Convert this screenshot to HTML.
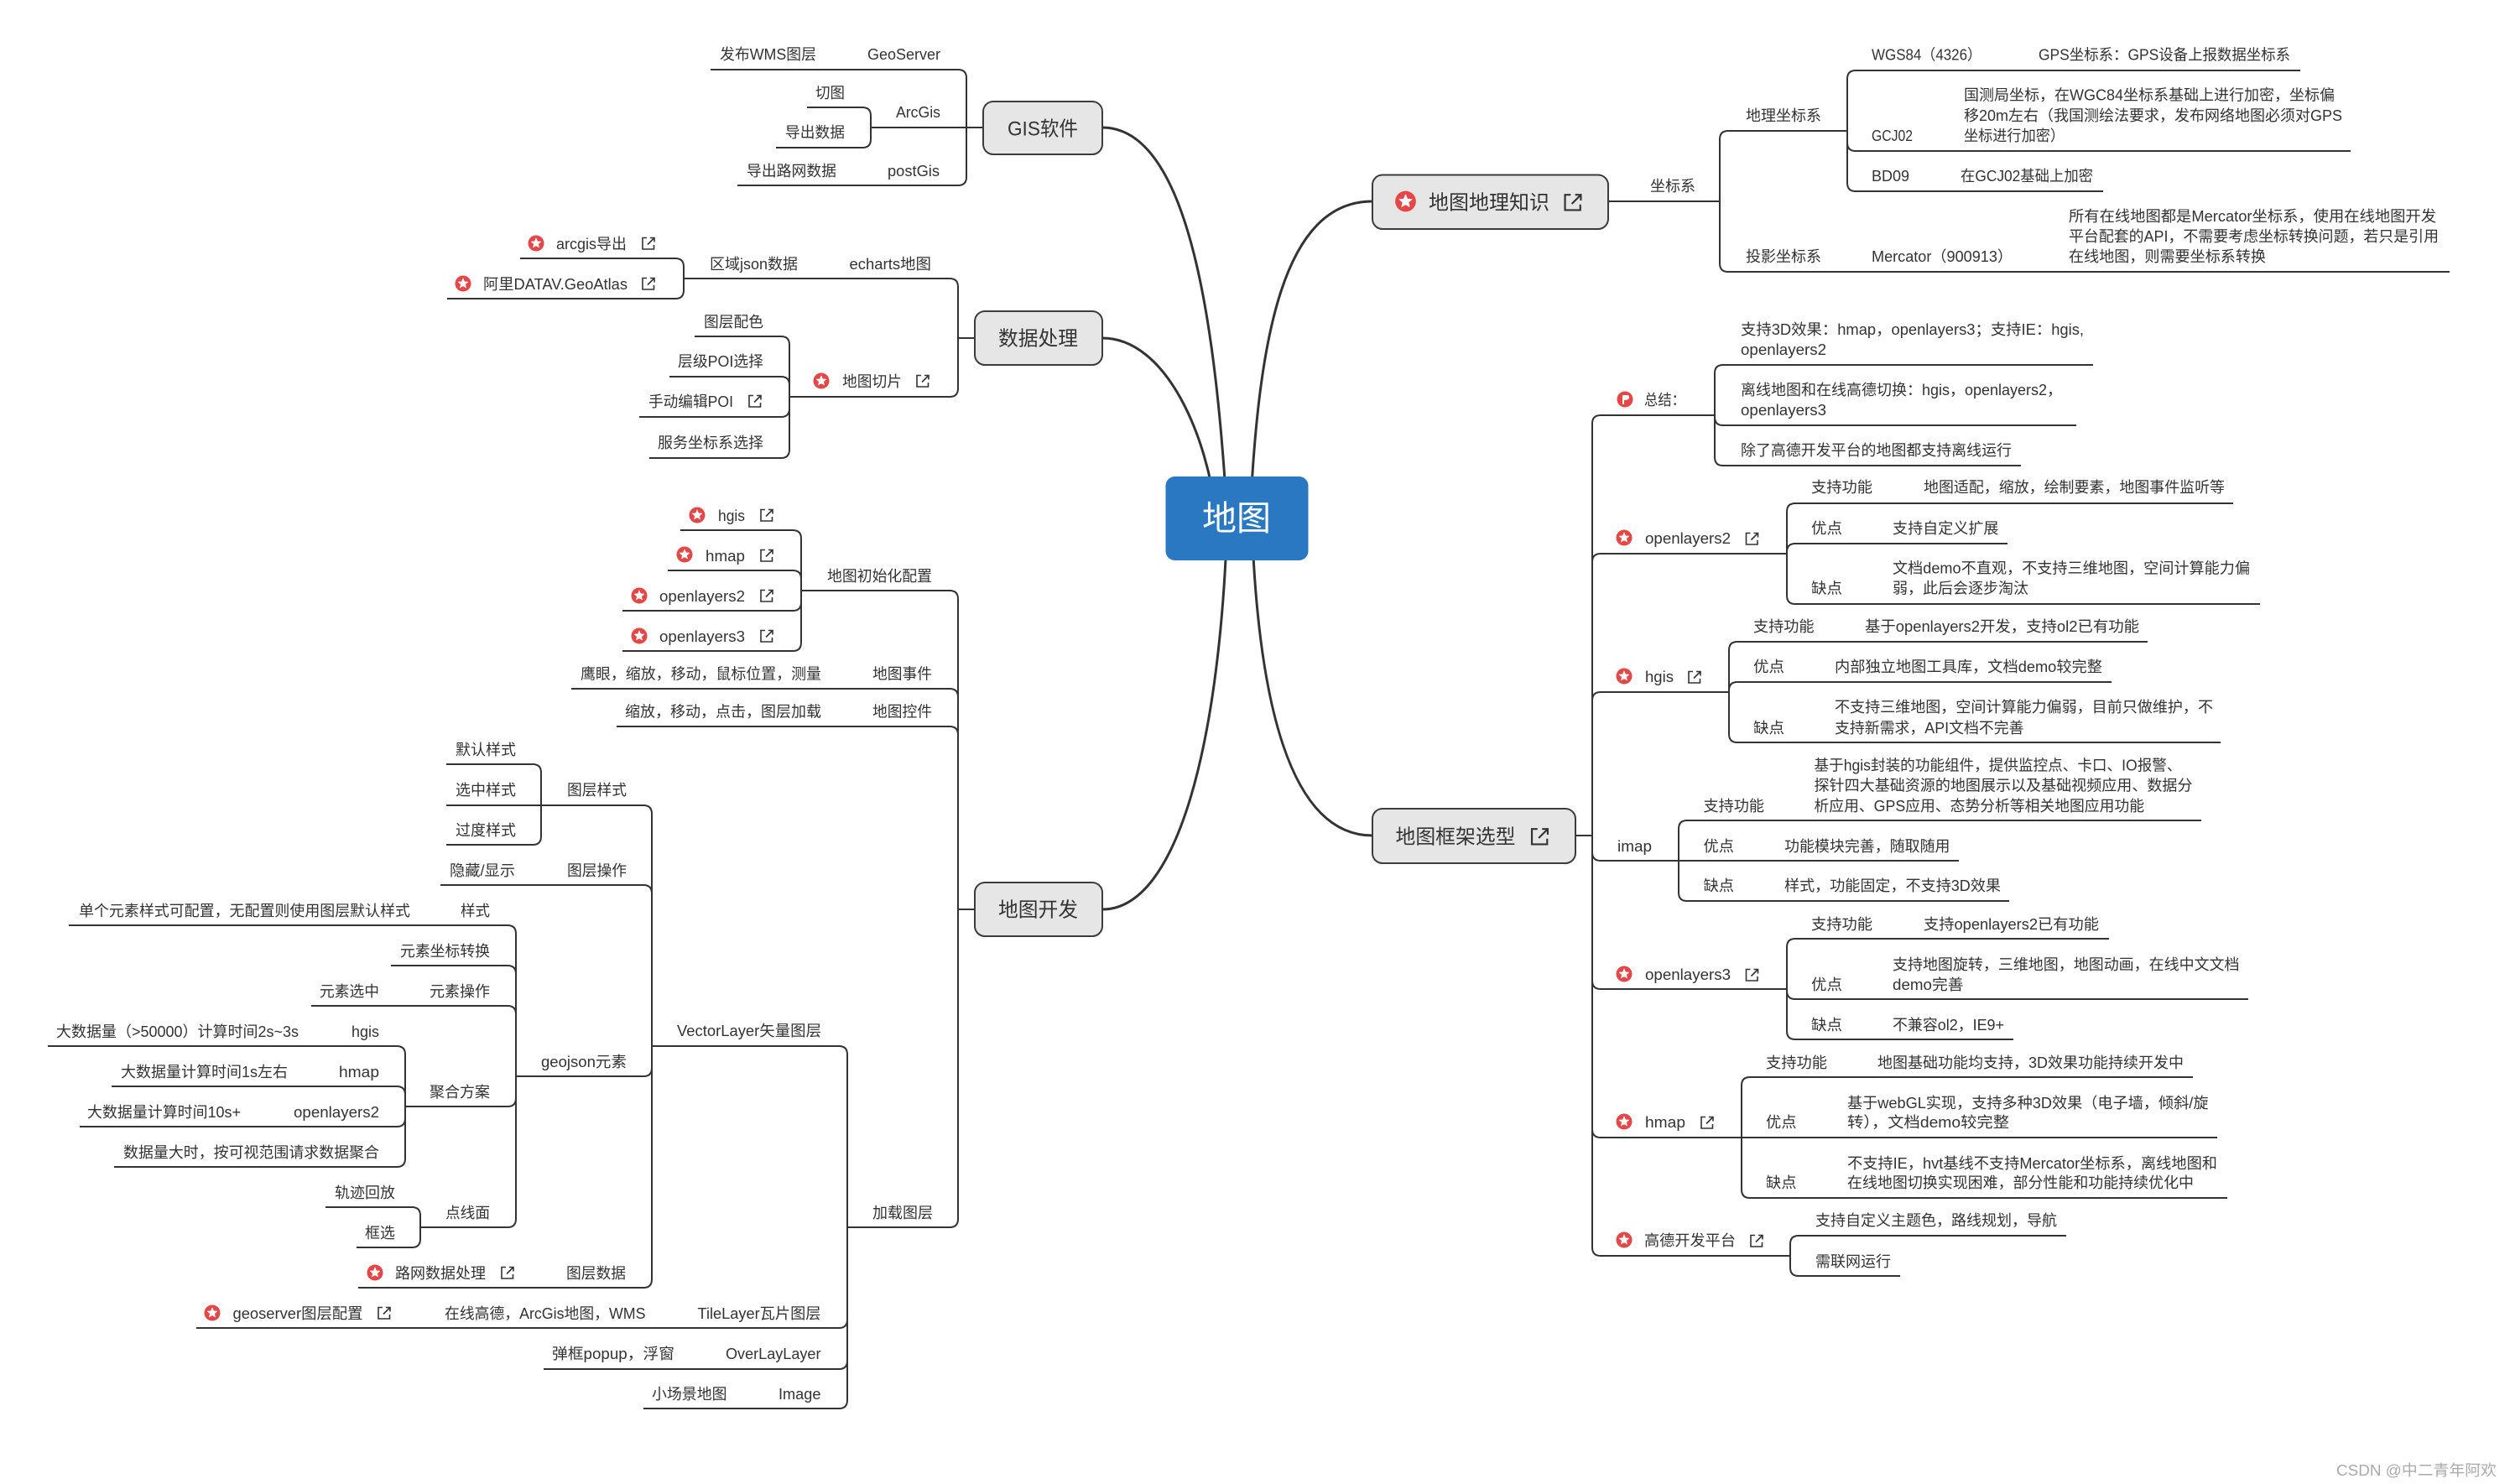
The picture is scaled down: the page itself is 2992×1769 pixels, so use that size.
<!DOCTYPE html>
<html lang="zh"><head><meta charset="utf-8"><title>地图</title>
<style>
html,body{margin:0;padding:0;background:#fff}
svg{display:block}
text{font-family:"Liberation Sans","Noto Sans CJK SC",sans-serif;font-size:18px;fill:#333;dominant-baseline:central;transform:translateY(1px)}
.l{fill:none;stroke:#333;stroke-width:2}
.c{fill:none;stroke:#333;stroke-width:3}
.n{fill:#e6e6e6;stroke:#3c3c3c;stroke-width:2}
.b text,text.b{font-size:24px}
.u{fill:none;stroke:#333;stroke-width:1.6}
</style></head><body>
<svg xmlns="http://www.w3.org/2000/svg" width="2992" height="1769" viewBox="0 0 2992 1769">
<defs>
<g id="s"><circle r="9.5" fill="#e54646"/><polygon fill="#fff" stroke="#fff" stroke-width=".8" stroke-linejoin="round" points="0,-6 1.53,-2.1 5.7,-1.85 2.47,.8 3.5,4.85 0,2.6 -3.5,4.85 -2.47,.8 -5.7,-1.85 -1.53,-2.1"/></g>
<g id="f"><circle r="9.5" fill="#e54646"/><path fill="#fff" d="M-3 6V-5H2.500Q5.500-5 5-2Q4.500 1-1 1V6Z"/></g>
<path id="k" class="u" d="M-2-6.500H-7V7H6.500V2M-1 1.500L7-6.500M2-6.500H7V-1.500"/>
</defs>
<rect width="2992" height="1769" fill="#fff"/>

<!-- main curves -->
<path class="c" d="M1463 618C1450 400 1420 152 1314 152"/>
<path class="c" d="M1450 618C1440 520 1390 403 1314 403"/>
<path class="c" d="M1463 618C1455 880 1405 1084 1314 1084"/>
<path class="c" d="M1490 618C1500 400 1530 240 1636 240"/>
<path class="c" d="M1492 618C1500 860 1545 996 1636 996"/>

<!-- connectors -->
<path class="l" d="M847 83H1142Q1152 83 1152 93V152M879 221H1142Q1152 221 1152 211V152M962 128H1028Q1038 128 1038 138V152M925 176H1028Q1038 176 1038 166V152M1038 152H1172"/>
<path class="l" d="M815 332H1132Q1142 332 1142 342V403M941 473H1132Q1142 473 1142 463V403M1142 403H1162M620 308H805Q815 308 815 318V332M533 356H805Q815 356 815 346V332M828 401H931Q941 401 941 411V473M798 449H931Q941 449 941 459V473M762 497H931Q941 497 941 487V473M774 546H931Q941 546 941 536V473"/>
<path class="l" d="M955 704H1132Q1142 704 1142 714V1084M681 821H1132Q1142 821 1142 831V1084M735 866H1132Q1142 866 1142 876V1084M1010 1463H1132Q1142 1463 1142 1453V1084M1142 1084H1162"/>
<path class="l" d="M811 632H945Q955 632 955 642V704M796 680H945Q955 680 955 690V704M742 728H945Q955 728 955 718V704M742 776H945Q955 776 955 766V704"/>
<path class="l" d="M777 1247H1000Q1010 1247 1010 1257V1463M234 1583H1000Q1010 1583 1010 1573V1463M648 1632H1000Q1010 1632 1010 1622V1463M767 1679H1000Q1010 1679 1010 1669V1463"/>
<path class="l" d="M532 960H767Q777 960 777 970V1247M525 1055H767Q777 1055 777 1065V1247M615 1283H767Q777 1283 777 1273V1247M427 1535H767Q777 1535 777 1525V1247"/>
<path class="l" d="M532 911H635Q645 911 645 921V960M532 1007H635Q645 1007 645 997V960"/>
<path class="l" d="M82 1103H605Q615 1103 615 1113V1283M466 1151H605Q615 1151 615 1161V1283M371 1199H605Q615 1199 615 1209V1283M483 1319H605Q615 1319 615 1309V1283M501 1463H605Q615 1463 615 1453V1283"/>
<path class="l" d="M57 1247H473Q483 1247 483 1257V1319M133 1295H473Q483 1295 483 1305V1319M95 1343H473Q483 1343 483 1333V1319M136 1391H473Q483 1391 483 1381V1319"/>
<path class="l" d="M388 1439H491Q501 1439 501 1449V1463M425 1487H491Q501 1487 501 1477V1463"/>

<path class="l" d="M1917 240H2050M2050 240V166Q2050 156 2060 156H2202M2050 240V314Q2050 324 2060 324H2920M2202 156V94Q2202 84 2212 84H2742M2202 156V170Q2202 180 2212 180H2802M2202 156V218Q2202 228 2212 228H2507"/>
<path class="l" d="M1878 996H1898M1898 996V505Q1898 495 1908 495H2044M1898 996V670Q1898 660 1908 660H2130M1898 996V835Q1898 825 1908 825H2061M1898 996V1016Q1898 1026 1908 1026H2335M1898 996V1169Q1898 1179 1908 1179H2130M1898 996V1346Q1898 1356 1908 1356H2643M1898 996V1487Q1898 1497 1908 1497H2134"/>
<path class="l" d="M2044 495V445Q2044 435 2054 435H2495M2044 495V497Q2044 507 2054 507H2475M2044 495V545Q2044 555 2054 555H2409"/>
<path class="l" d="M2130 660V610Q2130 600 2140 600H2662M2130 660V658Q2130 648 2140 648H2393M2130 660V710Q2130 720 2140 720H2694"/>
<path class="l" d="M2061 825V775Q2061 765 2071 765H2560M2061 825V823Q2061 813 2071 813H2517M2061 825V875Q2061 885 2071 885H2647"/>
<path class="l" d="M2001 1026V988Q2001 978 2011 978H2624M2001 1026V1064Q2001 1074 2011 1074H2395"/>
<path class="l" d="M2130 1179V1129Q2130 1119 2140 1119H2514M2130 1179V1181Q2130 1191 2140 1191H2680M2130 1179V1229Q2130 1239 2140 1239H2400"/>
<path class="l" d="M2076 1356V1294Q2076 1284 2086 1284H2614M2076 1356V1418Q2076 1428 2086 1428H2655"/>
<path class="l" d="M2134 1497V1483Q2134 1473 2144 1473H2463M2134 1497V1511Q2134 1521 2144 1521H2265"/>

<!-- nodes -->
<rect x="1389.500" y="568" width="170" height="100" rx="11" fill="#2b78c2"/>
<text x="1433" y="617" textLength="82" lengthAdjust="spacingAndGlyphs" style="font-size:41px;fill:#fff">地图</text>
<rect class="n" x="1172" y="121" width="142" height="63" rx="12"/>
<text class="b" x="1201" y="153" textLength="84" lengthAdjust="spacingAndGlyphs">GIS软件</text>
<rect class="n" x="1162" y="371" width="152" height="64" rx="12"/>
<text class="b" x="1190" y="403" textLength="95" lengthAdjust="spacingAndGlyphs">数据处理</text>
<rect class="n" x="1162" y="1052" width="152" height="64" rx="12"/>
<text class="b" x="1190" y="1084" textLength="95" lengthAdjust="spacingAndGlyphs">地图开发</text>
<rect class="n" x="1636" y="208.500" width="281" height="64.500" rx="12"/>
<use href="#s" transform="translate(1675.500 240) scale(1.3)"/>
<text class="b" x="1703" y="241" textLength="144" lengthAdjust="spacingAndGlyphs">地图地理知识</text>
<use href="#k" transform="translate(1875 241) scale(1.35)"/>
<rect class="n" x="1636" y="964" width="242" height="65" rx="12"/>
<text class="b" x="1663.500" y="997" textLength="143" lengthAdjust="spacingAndGlyphs">地图框架选型</text>
<use href="#k" transform="translate(1835.500 997) scale(1.35)"/>

<!-- GIS -->
<text x="858" y="64" textLength="115" lengthAdjust="spacingAndGlyphs">发布WMS图层</text>
<text x="1034" y="64" textLength="87" lengthAdjust="spacingAndGlyphs">GeoServer</text>
<text x="972" y="110" textLength="35" lengthAdjust="spacingAndGlyphs">切图</text>
<text x="1068" y="133" textLength="53" lengthAdjust="spacingAndGlyphs">ArcGis</text>
<text x="936" y="157" textLength="71" lengthAdjust="spacingAndGlyphs">导出数据</text>
<text x="890" y="203" textLength="107" lengthAdjust="spacingAndGlyphs">导出路网数据</text>
<text x="1058" y="203" textLength="62" lengthAdjust="spacingAndGlyphs">postGis</text>

<!-- data -->
<use href="#s" x="639" y="290"/><text x="663" y="290" textLength="84" lengthAdjust="spacingAndGlyphs">arcgis导出</text><use href="#k" x="773" y="290"/>
<use href="#s" x="552" y="338"/><text x="576" y="338" textLength="172" lengthAdjust="spacingAndGlyphs">阿里DATAV.GeoAtlas</text><use href="#k" x="773" y="338"/>
<text x="846" y="314" textLength="105" lengthAdjust="spacingAndGlyphs">区域json数据</text>
<text x="1012.500" y="314" textLength="97.500" lengthAdjust="spacingAndGlyphs">echarts地图</text>
<use href="#s" x="979" y="454"/><text x="1004" y="454" textLength="71" lengthAdjust="spacingAndGlyphs">地图切片</text><use href="#k" x="1100" y="454"/>
<text x="839" y="383" textLength="71" lengthAdjust="spacingAndGlyphs">图层配色</text>
<text x="808" y="430" textLength="102" lengthAdjust="spacingAndGlyphs">层级POI选择</text>
<text x="773" y="478" textLength="101" lengthAdjust="spacingAndGlyphs">手动编辑POI</text><use href="#k" x="900" y="478"/>
<text x="784" y="527" textLength="126" lengthAdjust="spacingAndGlyphs">服务坐标系选择</text>

<!-- dev top -->
<use href="#s" x="831" y="614"/><text x="856" y="614" textLength="32" lengthAdjust="spacingAndGlyphs">hgis</text><use href="#k" x="914" y="614"/>
<use href="#s" x="816" y="661"/><text x="841" y="662" textLength="47" lengthAdjust="spacingAndGlyphs">hmap</text><use href="#k" x="914" y="662"/>
<use href="#s" x="762" y="710"/><text x="786" y="710" textLength="102" lengthAdjust="spacingAndGlyphs">openlayers2</text><use href="#k" x="914" y="710"/>
<use href="#s" x="762" y="758"/><text x="786" y="758" textLength="102" lengthAdjust="spacingAndGlyphs">openlayers3</text><use href="#k" x="914" y="758"/>
<text x="986" y="686" textLength="125" lengthAdjust="spacingAndGlyphs">地图初始化配置</text>
<text x="692" y="802.500" textLength="287" lengthAdjust="spacingAndGlyphs">鹰眼，缩放，移动，鼠标位置，测量</text>
<text x="1040" y="802.500" textLength="71" lengthAdjust="spacingAndGlyphs">地图事件</text>
<text x="745" y="847.500" textLength="234" lengthAdjust="spacingAndGlyphs">缩放，移动，点击，图层加载</text>
<text x="1040" y="847.500" textLength="71" lengthAdjust="spacingAndGlyphs">地图控件</text>

<!-- layers -->
<text x="543" y="893" textLength="72" lengthAdjust="spacingAndGlyphs">默认样式</text>
<text x="543" y="941" textLength="72" lengthAdjust="spacingAndGlyphs">选中样式</text>
<text x="676" y="941" textLength="71" lengthAdjust="spacingAndGlyphs">图层样式</text>
<text x="543" y="989" textLength="72" lengthAdjust="spacingAndGlyphs">过度样式</text>
<text x="536" y="1037" textLength="78" lengthAdjust="spacingAndGlyphs">隐藏/显示</text>
<text x="676" y="1037" textLength="71" lengthAdjust="spacingAndGlyphs">图层操作</text>
<text x="94" y="1085" textLength="395" lengthAdjust="spacingAndGlyphs">单个元素样式可配置，无配置则使用图层默认样式</text>
<text x="549" y="1085" textLength="35" lengthAdjust="spacingAndGlyphs">样式</text>
<text x="477" y="1133" textLength="107" lengthAdjust="spacingAndGlyphs">元素坐标转换</text>
<text x="381" y="1181" textLength="71" lengthAdjust="spacingAndGlyphs">元素选中</text>
<text x="512" y="1181" textLength="72" lengthAdjust="spacingAndGlyphs">元素操作</text>
<text x="807" y="1228" textLength="172" lengthAdjust="spacingAndGlyphs">VectorLayer矢量图层</text>
<text x="67" y="1229" textLength="289" lengthAdjust="spacingAndGlyphs">大数据量（>50000）计算时间2s~3s</text>
<text x="419" y="1229" textLength="33" lengthAdjust="spacingAndGlyphs">hgis</text>
<text x="645" y="1265" textLength="102" lengthAdjust="spacingAndGlyphs">geojson元素</text>
<text x="144" y="1277" textLength="199" lengthAdjust="spacingAndGlyphs">大数据量计算时间1s左右</text>
<text x="404" y="1277" textLength="48" lengthAdjust="spacingAndGlyphs">hmap</text>
<text x="512" y="1301" textLength="72" lengthAdjust="spacingAndGlyphs">聚合方案</text>
<text x="104" y="1325" textLength="183" lengthAdjust="spacingAndGlyphs">大数据量计算时间10s+</text>
<text x="350" y="1325" textLength="102" lengthAdjust="spacingAndGlyphs">openlayers2</text>
<text x="147" y="1373" textLength="305" lengthAdjust="spacingAndGlyphs">数据量大时，按可视范围请求数据聚合</text>
<text x="399" y="1421" textLength="72" lengthAdjust="spacingAndGlyphs">轨迹回放</text>
<text x="531" y="1445" textLength="53" lengthAdjust="spacingAndGlyphs">点线面</text>
<text x="1040" y="1445" textLength="72" lengthAdjust="spacingAndGlyphs">加载图层</text>
<text x="435" y="1469" textLength="36" lengthAdjust="spacingAndGlyphs">框选</text>
<use href="#s" x="447" y="1517"/><text x="471" y="1517" textLength="108" lengthAdjust="spacingAndGlyphs">路网数据处理</text><use href="#k" x="605" y="1517"/>
<text x="675" y="1517" textLength="71" lengthAdjust="spacingAndGlyphs">图层数据</text>
<use href="#s" x="253" y="1565"/><text x="277.500" y="1565" textLength="155" lengthAdjust="spacingAndGlyphs">geoserver图层配置</text><use href="#k" x="458" y="1565"/>
<text x="530" y="1565" textLength="239.500" lengthAdjust="spacingAndGlyphs">在线高德，ArcGis地图，WMS</text>
<text x="831.500" y="1565" textLength="147" lengthAdjust="spacingAndGlyphs">TileLayer瓦片图层</text>
<text x="658" y="1613" textLength="146" lengthAdjust="spacingAndGlyphs">弹框popup，浮窗</text>
<text x="865" y="1613" textLength="113.500" lengthAdjust="spacingAndGlyphs">OverLayLayer</text>
<text x="777" y="1661" textLength="89.500" lengthAdjust="spacingAndGlyphs">小场景地图</text>
<text x="928" y="1661" textLength="50.500" lengthAdjust="spacingAndGlyphs">Image</text>

<!-- geo knowledge -->
<text x="1967" y="221" textLength="54" lengthAdjust="spacingAndGlyphs">坐标系</text>
<text x="2081" y="137" textLength="90" lengthAdjust="spacingAndGlyphs">地理坐标系</text>
<text x="2081" y="305" textLength="90" lengthAdjust="spacingAndGlyphs">投影坐标系</text>
<text x="2231" y="64.700" textLength="131" lengthAdjust="spacingAndGlyphs">WGS84（4326）</text>
<text x="2430" y="64.700" textLength="300" lengthAdjust="spacingAndGlyphs">GPS坐标系：GPS设备上报数据坐标系</text>
<text x="2341" y="112.500" textLength="442" lengthAdjust="spacingAndGlyphs">国测局坐标，在WGC84坐标系基础上进行加密，坐标偏</text>
<text x="2341" y="137" textLength="451" lengthAdjust="spacingAndGlyphs">移20m左右（我国测绘法要求，发布网络地图必须对GPS</text>
<text x="2341" y="161" textLength="120" lengthAdjust="spacingAndGlyphs">坐标进行加密）</text>
<text x="2231" y="161" textLength="49" lengthAdjust="spacingAndGlyphs">GCJ02</text>
<text x="2231" y="209" textLength="45" lengthAdjust="spacingAndGlyphs">BD09</text>
<text x="2337" y="209" textLength="158" lengthAdjust="spacingAndGlyphs">在GCJ02基础上加密</text>
<text x="2466" y="257" textLength="438" lengthAdjust="spacingAndGlyphs">所有在线地图都是Mercator坐标系，使用在线地图开发</text>
<text x="2466" y="281" textLength="441" lengthAdjust="spacingAndGlyphs">平台配套的API，不需要考虑坐标转换问题，若只是引用</text>
<text x="2466" y="305" textLength="235" lengthAdjust="spacingAndGlyphs">在线地图，则需要坐标系转换</text>
<text x="2231" y="305" textLength="168" lengthAdjust="spacingAndGlyphs">Mercator（900913）</text>

<!-- summary -->
<use href="#f" x="1937" y="476"/><text x="1960" y="476" textLength="49" lengthAdjust="spacingAndGlyphs">总结：</text>
<text x="2075" y="392" textLength="409" lengthAdjust="spacingAndGlyphs">支持3D效果：hmap，openlayers3；支持IE：hgis,</text>
<text x="2075" y="416" textLength="102" lengthAdjust="spacingAndGlyphs">openlayers2</text>
<text x="2075" y="464" textLength="383" lengthAdjust="spacingAndGlyphs">离线地图和在线高德切换：hgis，openlayers2，</text>
<text x="2075" y="488" textLength="102" lengthAdjust="spacingAndGlyphs">openlayers3</text>
<text x="2075" y="536" textLength="323" lengthAdjust="spacingAndGlyphs">除了高德开发平台的地图都支持离线运行</text>

<!-- ol2 -->
<use href="#s" x="1936" y="641"/><text x="1961" y="641" textLength="102" lengthAdjust="spacingAndGlyphs">openlayers2</text><use href="#k" x="2088.500" y="642"/>
<text x="2159" y="580" textLength="73" lengthAdjust="spacingAndGlyphs">支持功能</text>
<text x="2293" y="580" textLength="359" lengthAdjust="spacingAndGlyphs">地图适配，缩放，绘制要素，地图事件监听等</text>
<text x="2159" y="629" textLength="37" lengthAdjust="spacingAndGlyphs">优点</text>
<text x="2256" y="629" textLength="126.500" lengthAdjust="spacingAndGlyphs">支持自定义扩展</text>
<text x="2159" y="700.600" textLength="37" lengthAdjust="spacingAndGlyphs">缺点</text>
<text x="2256" y="676.500" textLength="426" lengthAdjust="spacingAndGlyphs">文档demo不直观，不支持三维地图，空间计算能力偏</text>
<text x="2256" y="700.600" textLength="162" lengthAdjust="spacingAndGlyphs">弱，此后会逐步淘汰</text>

<!-- hgis -->
<use href="#s" x="1936" y="806"/><text x="1961" y="806" textLength="34" lengthAdjust="spacingAndGlyphs">hgis</text><use href="#k" x="2020" y="807"/>
<text x="2090" y="746" textLength="72.500" lengthAdjust="spacingAndGlyphs">支持功能</text>
<text x="2223" y="746" textLength="327" lengthAdjust="spacingAndGlyphs">基于openlayers2开发，支持ol2已有功能</text>
<text x="2090" y="794" textLength="37" lengthAdjust="spacingAndGlyphs">优点</text>
<text x="2187" y="794" textLength="319" lengthAdjust="spacingAndGlyphs">内部独立地图工具库，文档demo较完整</text>
<text x="2090" y="867" textLength="37" lengthAdjust="spacingAndGlyphs">缺点</text>
<text x="2187" y="842" textLength="451" lengthAdjust="spacingAndGlyphs">不支持三维地图，空间计算能力偏弱，目前只做维护，不</text>
<text x="2187" y="867" textLength="225.500" lengthAdjust="spacingAndGlyphs">支持新需求，API文档不完善</text>

<!-- imap -->
<text x="1928" y="1008" textLength="41" lengthAdjust="spacingAndGlyphs">imap</text>
<text x="2030.500" y="960" textLength="72.500" lengthAdjust="spacingAndGlyphs">支持功能</text>
<text x="2162.500" y="911.400" textLength="438" lengthAdjust="spacingAndGlyphs">基于hgis封装的功能组件，提供监控点、卡口、IO报警、</text>
<text x="2162.500" y="935.500" textLength="451" lengthAdjust="spacingAndGlyphs">探针四大基础资源的地图展示以及基础视频应用、数据分</text>
<text x="2162.500" y="960" textLength="393.500" lengthAdjust="spacingAndGlyphs">析应用、GPS应用、态势分析等相关地图应用功能</text>
<text x="2030.500" y="1008" textLength="36.500" lengthAdjust="spacingAndGlyphs">优点</text>
<text x="2127" y="1008" textLength="197.500" lengthAdjust="spacingAndGlyphs">功能模块完善，随取随用</text>
<text x="2030.500" y="1055" textLength="36.500" lengthAdjust="spacingAndGlyphs">缺点</text>
<text x="2127" y="1055" textLength="258" lengthAdjust="spacingAndGlyphs">样式，功能固定，不支持3D效果</text>

<!-- ol3 -->
<use href="#s" x="1936" y="1161"/><text x="1961" y="1161" textLength="102" lengthAdjust="spacingAndGlyphs">openlayers3</text><use href="#k" x="2088.500" y="1162"/>
<text x="2159" y="1101" textLength="73" lengthAdjust="spacingAndGlyphs">支持功能</text>
<text x="2293" y="1101" textLength="209" lengthAdjust="spacingAndGlyphs">支持openlayers2已有功能</text>
<text x="2159" y="1173" textLength="37" lengthAdjust="spacingAndGlyphs">优点</text>
<text x="2256" y="1149" textLength="413.500" lengthAdjust="spacingAndGlyphs">支持地图旋转，三维地图，地图动画，在线中文文档</text>
<text x="2256" y="1173" textLength="84.500" lengthAdjust="spacingAndGlyphs">demo完善</text>
<text x="2159" y="1221" textLength="37" lengthAdjust="spacingAndGlyphs">缺点</text>
<text x="2256" y="1221" textLength="133" lengthAdjust="spacingAndGlyphs">不兼容ol2，IE9+</text>

<!-- hmap -->
<use href="#s" x="1936" y="1337"/><text x="1961" y="1337" textLength="48" lengthAdjust="spacingAndGlyphs">hmap</text><use href="#k" x="2035" y="1338"/>
<text x="2105" y="1266" textLength="73" lengthAdjust="spacingAndGlyphs">支持功能</text>
<text x="2238" y="1266" textLength="365" lengthAdjust="spacingAndGlyphs">地图基础功能均支持，3D效果功能持续开发中</text>
<text x="2105" y="1337" textLength="36.500" lengthAdjust="spacingAndGlyphs">优点</text>
<text x="2202" y="1314" textLength="430.500" lengthAdjust="spacingAndGlyphs">基于webGL实现，支持多种3D效果（电子墙，倾斜/旋</text>
<text x="2202" y="1337" textLength="193" lengthAdjust="spacingAndGlyphs">转），文档demo较完整</text>
<text x="2105" y="1409" textLength="36.500" lengthAdjust="spacingAndGlyphs">缺点</text>
<text x="2202" y="1386" textLength="441" lengthAdjust="spacingAndGlyphs">不支持IE，hvt基线不支持Mercator坐标系，离线地图和</text>
<text x="2202" y="1409" textLength="413" lengthAdjust="spacingAndGlyphs">在线地图切换实现困难，部分性能和功能持续优化中</text>

<!-- gaode -->
<use href="#s" x="1936" y="1478"/><text x="1960" y="1478" textLength="109" lengthAdjust="spacingAndGlyphs">高德开发平台</text><use href="#k" x="2094" y="1479"/>
<text x="2164" y="1454" textLength="288" lengthAdjust="spacingAndGlyphs">支持自定义主题色，路线规划，导航</text>
<text x="2164" y="1503" textLength="90" lengthAdjust="spacingAndGlyphs">需联网运行</text>

<text x="2785" y="1752" textLength="191" lengthAdjust="spacingAndGlyphs" style="fill:#aaa">CSDN @中二青年阿欢</text>
</svg>
</body></html>
